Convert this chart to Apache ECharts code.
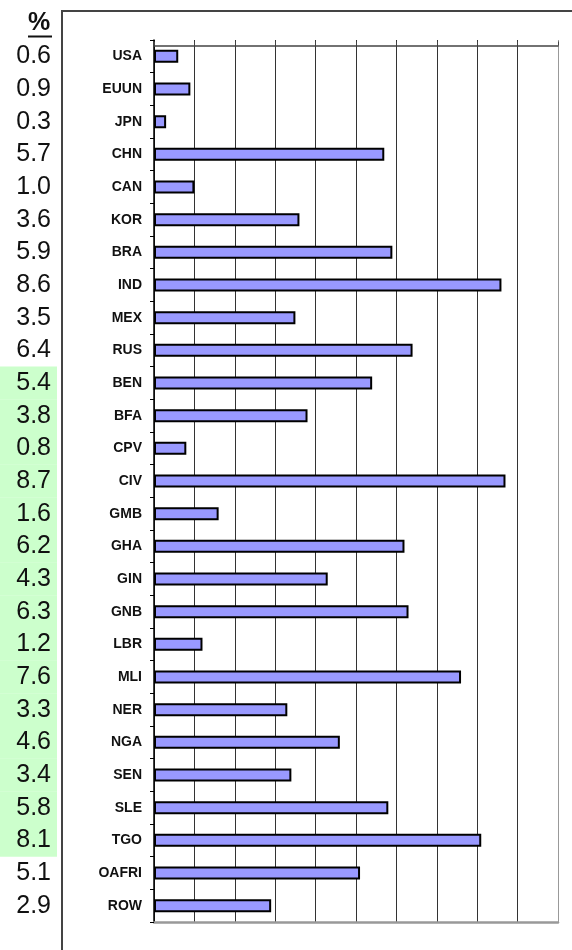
<!DOCTYPE html>
<html>
<head>
<meta charset="utf-8">
<script src="https://cdn.jsdelivr.net/npm/echarts@6/dist/echarts.min.js"></script>
<style>
  html, body { margin: 0; padding: 0; background: #fff; }
  #chart { width: 572px; height: 950px; }
</style>
</head>
<body>
<div id="chart"></div>
<script>
const countries = ['USA', 'EUUN', 'JPN', 'CHN', 'CAN', 'KOR', 'BRA', 'IND', 'MEX', 'RUS',
  'BEN', 'BFA', 'CPV', 'CIV', 'GMB', 'GHA', 'GIN', 'GNB', 'LBR', 'MLI', 'NER', 'NGA', 'SEN',
  'SLE', 'TGO', 'OAFRI', 'ROW'];
const pctValues = [0.6, 0.9, 0.3, 5.7, 1.0, 3.6, 5.9, 8.6, 3.5, 6.4,
  5.4, 3.8, 0.8, 8.7, 1.6, 6.2, 4.3, 6.3, 1.2, 7.6, 3.3, 4.6, 3.4,
  5.8, 8.1, 5.1, 2.9];
// countries shaded green in the % column
const highlighted = ['BEN', 'BFA', 'CPV', 'CIV', 'GMB', 'GHA', 'GIN', 'GNB', 'LBR', 'MLI',
  'NER', 'NGA', 'SEN', 'SLE', 'TGO'];

const chart = echarts.init(document.getElementById('chart'), null, { renderer: 'canvas' });
const FONT = '"Liberation Sans", Arial, sans-serif';

const valueToken = {
  width: 51, height: 33, align: 'right', padding: [0, 6, 0, 0],
  fontSize: 25, fontFamily: FONT, color: '#111', lineHeight: 33
};

chart.setOption({
  animation: false,
  backgroundColor: '#fff',
  graphic: [
    {
      type: 'rect', z: -10, silent: true,
      shape: { x: 62, y: 11, width: 600, height: 1000 },
      style: { fill: 'none', stroke: '#444', lineWidth: 2 }
    },
    {
      type: 'text', left: 28, top: 11,
      style: { text: '%', fontSize: 25, fontWeight: 'bold', fontFamily: FONT, fill: '#111' }
    },
    {
      type: 'line',
      shape: { x1: 28, y1: 36.5, x2: 52, y2: 36.5 },
      style: { stroke: '#111', lineWidth: 2 }
    }
  ],
  grid: {
    left: 154, right: 14, top: 40, bottom: 28,
    outerBoundsMode: 'none', containLabel: false, show: false
  },
  xAxis: [
    {
      type: 'value', position: 'top', offset: -5.5, min: 0, max: 10, interval: 1,
      axisLine: { show: true, lineStyle: { color: '#444', width: 1.5 } },
      axisTick: { show: true, inside: false, length: 4, lineStyle: { color: '#444' } },
      axisLabel: { show: false },
      splitLine: {
        show: true,
        lineStyle: { color: ['#333', '#333', '#333', '#333', '#333', '#333', '#333', '#333', '#333', '#333', '#999'], width: 1 }
      }
    },
    {
      type: 'value', position: 'bottom', min: 0, max: 10, interval: 1,
      axisLine: { show: true, lineStyle: { color: '#999', width: 2.5 } },
      axisTick: { show: false }, axisLabel: { show: false }, splitLine: { show: false }
    }
  ],
  yAxis: [
    {
      type: 'category', data: countries, inverse: true, position: 'left',
      axisLine: { show: true, lineStyle: { color: '#000', width: 1.5 } },
      axisTick: { show: true, length: 4, lineStyle: { color: '#000' } },
      axisLabel: {
        interval: 0, fontSize: 14, fontWeight: 'bold', fontFamily: FONT, color: '#111', margin: 12
      }
    },
    {
      type: 'category', data: countries, inverse: true, position: 'left', offset: 97,
      axisLine: { show: false }, axisTick: { show: false }, splitLine: { show: false },
      axisLabel: {
        interval: 0, margin: 0, showMinLabel: true, showMaxLabel: true, hideOverlap: false,
        formatter: (v, i) => {
          const key = highlighted.includes(v) ? 'g' : 'n';
          return `{${key}|${pctValues[i].toFixed(1)}}`;
        },
        rich: {
          g: Object.assign({ backgroundColor: '#ccffcc' }, valueToken),
          n: Object.assign({}, valueToken)
        }
      }
    }
  ],
  series: [
    {
      type: 'bar', xAxisIndex: 0, yAxisIndex: 0, data: pctValues, barWidth: 13,
      itemStyle: { color: '#9999ff', borderColor: '#000', borderWidth: 2 }
    }
  ]
});
</script>
</body>
</html>
